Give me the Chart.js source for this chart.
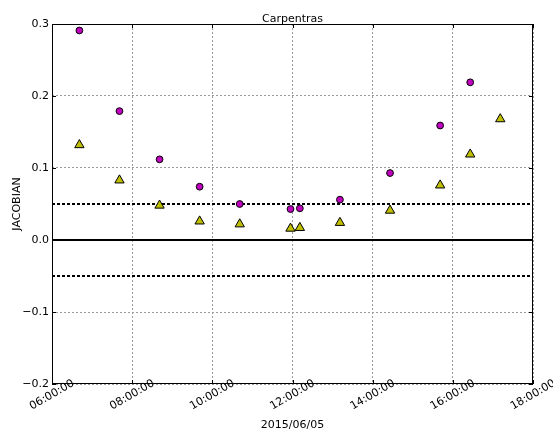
<!DOCTYPE html>
<html>
<head>
<meta charset="utf-8">
<script src="https://cdn.jsdelivr.net/npm/chart.js@4/dist/chart.umd.min.js"></script>
<style>
  html, body { margin: 0; padding: 0; background: #fff; }
  #wrap { width: 553px; height: 429px; }
</style>
</head>
<body>
<div id="wrap"><canvas id="chart" width="553" height="429"></canvas></div>
<script>
const chartTitle = "Carpentras";
const yAxisLabel = "JACOBIAN";
const xAxisLabel = "2015/06/05";

const xTickLabels = ["06:00:00", "08:00:00", "10:00:00", "12:00:00", "14:00:00", "16:00:00", "18:00:00"];
const yTickValues = [-0.2, -0.1, 0.0, 0.1, 0.2, 0.3];

// magenta circles
const circleTimes = ["06:41", "07:41", "08:41", "09:41", "10:41", "11:57", "12:11", "13:11", "14:26", "15:41", "16:26"];
const circleValues = [0.291, 0.179, 0.112, 0.074, 0.050, 0.043, 0.044, 0.056, 0.093, 0.159, 0.219];

// yellow triangles
const triangleTimes = ["06:41", "07:41", "08:41", "09:41", "10:41", "11:57", "12:11", "13:11", "14:26", "15:41", "16:26", "17:11"];
const triangleValues = [0.132, 0.083, 0.048, 0.026, 0.022, 0.016, 0.017, 0.024, 0.041, 0.076, 0.119, 0.168];

// horizontal reference lines
const refLevels = [0.05, 0.0, -0.05];

function toMinutes(t) {
  const parts = t.split(":").map(Number);
  return parts[0] * 60 + parts[1];
}

function toPoints(times, values) {
  return times.map((t, i) => ({ x: toMinutes(t), y: values[i] }));
}

const xMin = toMinutes(xTickLabels[0]);
const xMax = toMinutes(xTickLabels[xTickLabels.length - 1]);
const xStep = toMinutes(xTickLabels[1]) - xMin;

const refDatasets = refLevels.map((level) => ({
  data: [{ x: xMin, y: level }, { x: xMax, y: level }],
  showLine: true,
  pointRadius: 0,
  borderColor: "#000",
  borderWidth: 2,
  borderDash: level === 0 ? [] : [3, 2],
}));

Chart.defaults.font.family = "'DejaVu Sans', sans-serif";
Chart.defaults.font.size = 11;
Chart.defaults.color = "#000";

const decorations = {
  id: "decorations",
  afterDraw(chart) {
    const { ctx, chartArea: a, scales } = chart;
    const x = scales.x;
    const y = scales.y;
    ctx.save();
    ctx.setLineDash([]);
    ctx.strokeStyle = "#000";
    ctx.lineWidth = 1;

    // inward ticks on all four sides
    ctx.beginPath();
    xTickLabels.forEach((lab) => {
      const px = Math.round(x.getPixelForValue(toMinutes(lab))) + 0.5;
      ctx.moveTo(px, a.bottom); ctx.lineTo(px, a.bottom - 4);
      ctx.moveTo(px, a.top); ctx.lineTo(px, a.top + 4);
    });
    yTickValues.forEach((v) => {
      const py = Math.round(y.getPixelForValue(v)) + 0.5;
      ctx.moveTo(a.left, py); ctx.lineTo(a.left + 4, py);
      ctx.moveTo(a.right, py); ctx.lineTo(a.right - 4, py);
    });
    ctx.stroke();

    // frame
    ctx.strokeRect(a.left + 0.5, a.top + 0.5, a.right - a.left - 1, a.bottom - a.top - 1);

    // rotated x tick labels, centred on the tick
    ctx.fillStyle = "#000";
    ctx.font = "11px 'DejaVu Sans', sans-serif";
    ctx.textAlign = "center";
    ctx.textBaseline = "middle";
    xTickLabels.forEach((lab) => {
      const px = x.getPixelForValue(toMinutes(lab));
      ctx.save();
      ctx.translate(px, a.bottom + 11);
      ctx.rotate(-Math.PI / 6);
      ctx.fillText(lab, 0, 0);
      ctx.restore();
    });

    // title
    ctx.textBaseline = "alphabetic";
    ctx.fillText(chartTitle, (a.left + a.right) / 2, 22);
    ctx.restore();
  },
};

new Chart(document.getElementById("chart"), {
  type: "scatter",
  data: {
    datasets: [
      {
        data: toPoints(circleTimes, circleValues),
        pointStyle: "circle",
        pointRadius: 3.4,
        pointBackgroundColor: "#bf00bf",
        pointBorderColor: "#000",
        pointBorderWidth: 1,
      },
      {
        data: toPoints(triangleTimes, triangleValues),
        pointStyle: "triangle",
        pointRadius: 5.4,
        pointBackgroundColor: "#bfbf00",
        pointBorderColor: "#000",
        pointBorderWidth: 1,
      },
      ...refDatasets,
    ],
  },
  options: {
    responsive: false,
    animation: false,
    layout: { padding: { left: 0, top: 24, right: 20, bottom: 0 } },
    plugins: {
      legend: { display: false },
      title: { display: false },
      tooltip: { enabled: false },
    },
    scales: {
      x: {
        type: "linear",
        min: xMin,
        max: xMax,
        ticks: { stepSize: xStep, display: false },
        grid: { color: "#9a9a9a", lineWidth: 1, drawTicks: false },
        border: { display: false, dash: [2, 2] },
        title: { display: true, text: xAxisLabel, padding: { top: 0, bottom: -3 } },
        afterFit(scale) { scale.height = 45; },
      },
      y: {
        min: yTickValues[0],
        max: yTickValues[yTickValues.length - 1],
        ticks: {
          stepSize: 0.1,
          padding: 3,
          callback: (v) => (Math.abs(v) < 1e-9 ? "0.0" : v.toFixed(1).replace("-", "\u2212")),
        },
        grid: { color: "#9a9a9a", lineWidth: 1, drawTicks: false },
        border: { display: false, dash: [2, 2] },
        title: { display: true, text: yAxisLabel, padding: { top: 11, bottom: 0 } },
        afterFit(scale) { scale.width = 52; },
      },
    },
  },
  plugins: [decorations],
});
</script>
</body>
</html>
